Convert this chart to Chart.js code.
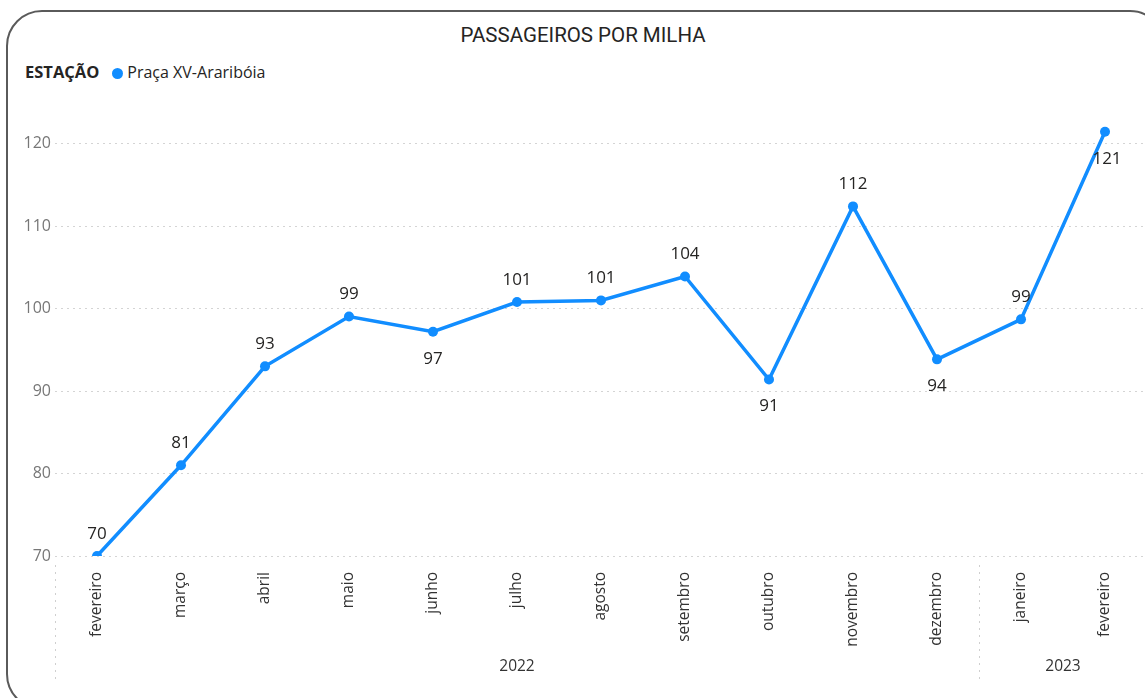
<!DOCTYPE html>
<html>
<head>
<meta charset="utf-8">
<script src="https://cdn.jsdelivr.net/npm/chart.js@4/dist/chart.umd.min.js"></script>
<style>
  html, body { margin: 0; padding: 0; background: #fff; overflow: hidden; }
  body { width: 1145px; height: 698px; position: relative; }
  .card { position: absolute; left: 6px; top: 10px; width: 1160px; height: 700px; border: 2px solid #5a5a5a; border-radius: 36px; box-sizing: border-box; }
  .title { position: absolute; left: 0; width: 1166px; top: 23px; text-align: center; font-family: Roboto, sans-serif; font-size: 20.5px; color: #252423; }
  .legend { position: absolute; left: 25px; top: 60px; font-family: "Open Sans", sans-serif; font-size: 16px; color: #252423; white-space: nowrap; }
  .legend b { margin-right: 13px; font-size: 16.5px; }
  .legend .dot { display: inline-block; width: 11px; height: 11px; border-radius: 50%; background: #118DFF; margin-right: 4px; vertical-align: -0.5px; }
  #wrap { position: absolute; left: 0; top: 0; width: 1152px; height: 698px; }
</style>
</head>
<body>
<div class="card"></div>
<div class="title">PASSAGEIROS POR MILHA</div>
<div class="legend"><b>ESTAÇÃO</b><span class="dot"></span>Praça XV-Araribóia</div>
<div id="wrap"><canvas id="passageirosChart" width="1152" height="698"></canvas></div>
<script>
const meses = ["fevereiro", "março", "abril", "maio", "junho", "julho", "agosto", "setembro", "outubro", "novembro", "dezembro", "janeiro", "fevereiro"];
const anos = ["2022", "2022", "2022", "2022", "2022", "2022", "2022", "2022", "2022", "2022", "2022", "2023", "2023"];
const passageiros = [70.0, 81.0, 93.0, 99.05, 97.2, 100.8, 101.0, 103.9, 91.4, 112.4, 93.85, 98.7, 121.45];
const yTicks = [70, 80, 90, 100, 110, 120];

// rótulos abaixo do ponto (índices)
const rotulosAbaixo = [4, 8, 10, 12];

const dataLabels = {
  id: "dataLabels",
  afterDatasetsDraw(chart) {
    const ctx = chart.ctx;
    const meta = chart.getDatasetMeta(0);
    ctx.save();
    ctx.font = "17px 'Open Sans', sans-serif";
    ctx.fillStyle = "#252423";
    ctx.textAlign = "center";
    ctx.textBaseline = "middle";
    meta.data.forEach((pt, i) => {
      const txt = String(Math.round(passageiros[i]));
      const y = rotulosAbaixo.includes(i) ? pt.y + 27 : pt.y - 22;
      ctx.fillText(txt, pt.x + (i === 12 ? 2 : 0), y);
    });
    ctx.restore();
  },
};

const yearAxis = {
  id: "yearAxis",
  afterDraw(chart) {
    const ctx = chart.ctx;
    const x = chart.scales.x;
    const half = (x.getPixelForTick(1) - x.getPixelForTick(0)) / 2;
    ctx.save();
    ctx.strokeStyle = "#cfcfcf";
    ctx.lineWidth = 1;
    ctx.setLineDash([2, 5]);
    ctx.font = "15.5px 'Open Sans', sans-serif";
    ctx.fillStyle = "#333";
    ctx.textAlign = "center";
    ctx.textBaseline = "middle";
    let start = 0;
    for (let i = 1; i <= anos.length; i++) {
      if (i === anos.length || anos[i] !== anos[start]) {
        const left = x.getPixelForTick(start) - half;
        ctx.beginPath();
        ctx.moveTo(Math.round(left) + 0.5, 565);
        ctx.lineTo(Math.round(left) + 0.5, 681);
        ctx.stroke();
        const mid = (x.getPixelForTick(start) + x.getPixelForTick(i - 1)) / 2;
        ctx.fillText(anos[start], mid, 667);
        start = i;
      }
    }
    ctx.restore();
  },
};

const ctx = document.getElementById("passageirosChart").getContext("2d");

const data = {
  labels: meses,
  datasets: [
    {
      label: "Praça XV-Araribóia",
      data: passageiros,
      borderColor: "#118DFF",
      backgroundColor: "#118DFF",
      borderWidth: 3.5,
      pointRadius: 5,
      pointBackgroundColor: "#118DFF",
      pointBorderWidth: 0,
      tension: 0,
    },
  ],
};

const config = {
  type: "line",
  data: data,
  options: {
    responsive: false,
    animation: false,
    layout: { padding: { top: 102.5, left: 0, right: 0, bottom: 0 } },
    plugins: {
      legend: { display: false },
      title: { display: false },
      tooltip: { enabled: false },
    },
    scales: {
      x: {
        offset: true,
        grid: { display: false },
        border: { display: false },
        ticks: {
          minRotation: 90,
          maxRotation: 90,
          padding: 8,
          color: "#333",
          font: { family: "'Open Sans', sans-serif", size: 15.5 },
        },
        afterFit: (scale) => { scale.height = 142; },
      },
      y: {
        min: 70,
        max: 125,
        border: { display: false, dash: [2, 4] },
        grid: { color: "#d4d4d4", lineWidth: 1, drawTicks: false },
        ticks: {
          padding: 4,
          color: "#777",
          font: { family: "'Open Sans', sans-serif", size: 16 },
        },
        afterBuildTicks: (scale) => { scale.ticks = yTicks.map((v) => ({ value: v })); },
        afterFit: (scale) => { scale.width = 55; },
      },
    },
  },
  plugins: [dataLabels, yearAxis],
};

const myChart = new Chart(ctx, config);
</script>
</body>
</html>
